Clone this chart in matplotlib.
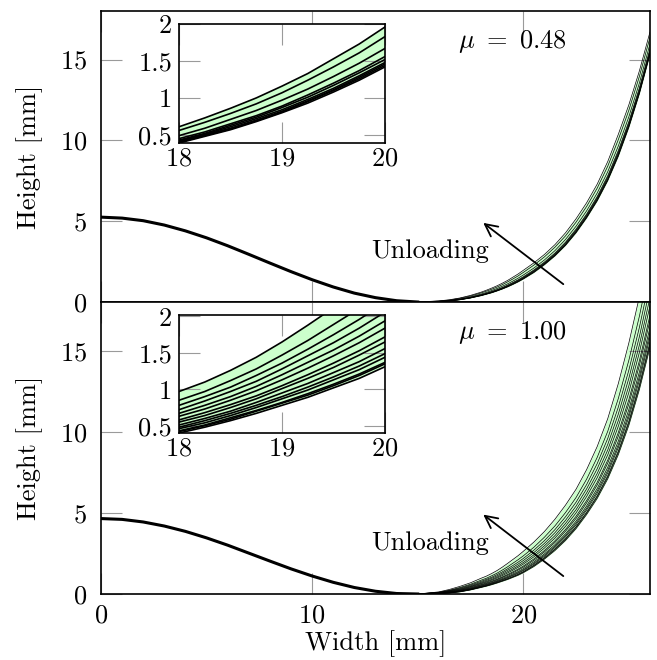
import matplotlib
matplotlib.use("Agg")
import matplotlib.pyplot as plt

# Computer Modern look
plt.rcParams["font.family"] = "cmr10"
plt.rcParams["mathtext.fontset"] = "cm"
plt.rcParams["axes.formatter.use_mathtext"] = True
plt.rcParams["font.size"] = 19

# shared part of every profile (0..15 mm)
x_left = [0, 1, 2, 3, 4, 5, 6, 7, 8, 9, 10, 11, 12, 13, 14, 15]
top_left = [5.25, 5.19, 5.03, 4.76, 4.40, 3.97, 3.48, 2.95, 2.41, 1.88, 1.38, 0.93, 0.55, 0.27, 0.08, 0.00]
bot_left = [4.65, 4.60, 4.44, 4.19, 3.86, 3.46, 3.01, 2.52, 2.03, 1.55, 1.11, 0.72, 0.40, 0.17, 0.03, 0.00]

# right part of the profiles, one list per unloading step
x_right = [16, 16.5, 17, 17.5, 18, 18.25, 18.5, 18.75, 19, 19.25, 19.5, 19.75, 20,
           20.5, 21, 21.5, 22, 22.5, 23, 23.5, 24, 24.5, 25, 25.5, 26]

# mu = 0.48
top_right = [
    [0.03, 0.07, 0.14, 0.25, 0.39, 0.48, 0.57, 0.68, 0.80, 0.93, 1.08, 1.24, 1.42,
     1.82, 2.30, 2.85, 3.50, 4.28, 5.20, 6.25, 7.50, 9.01, 10.80, 12.88, 15.30],
    [0.03, 0.07, 0.14, 0.25, 0.40, 0.49, 0.58, 0.69, 0.81, 0.95, 1.10, 1.26, 1.44,
     1.85, 2.33, 2.88, 3.53, 4.32, 5.24, 6.29, 7.55, 9.07, 10.86, 12.94, 15.36],
    [0.03, 0.08, 0.15, 0.26, 0.41, 0.50, 0.59, 0.70, 0.82, 0.96, 1.11, 1.28, 1.46,
     1.87, 2.35, 2.90, 3.55, 4.34, 5.26, 6.33, 7.58, 9.11, 10.90, 12.98, 15.40],
    [0.03, 0.08, 0.15, 0.27, 0.42, 0.51, 0.61, 0.72, 0.84, 0.98, 1.13, 1.30, 1.48,
     1.90, 2.38, 2.93, 3.59, 4.39, 5.31, 6.38, 7.64, 9.18, 10.97, 13.05, 15.47],
    [0.04, 0.08, 0.16, 0.28, 0.43, 0.52, 0.63, 0.74, 0.87, 1.01, 1.17, 1.34, 1.52,
     1.94, 2.42, 2.98, 3.65, 4.45, 5.38, 6.45, 7.73, 9.27, 11.07, 13.15, 15.57],
    [0.04, 0.09, 0.17, 0.29, 0.45, 0.54, 0.65, 0.76, 0.89, 1.04, 1.20, 1.37, 1.56,
     1.98, 2.47, 3.03, 3.70, 4.51, 5.44, 6.52, 7.81, 9.37, 11.16, 13.25, 15.66],
    [0.05, 0.10, 0.19, 0.32, 0.49, 0.59, 0.71, 0.83, 0.97, 1.12, 1.29, 1.47, 1.67,
     2.10, 2.60, 3.18, 3.87, 4.69, 5.64, 6.74, 8.06, 9.65, 11.46, 13.55, 15.96],
    [0.06, 0.12, 0.23, 0.37, 0.56, 0.67, 0.79, 0.92, 1.07, 1.24, 1.42, 1.61, 1.83,
     2.28, 2.79, 3.39, 4.09, 4.94, 5.91, 7.04, 8.40, 10.04, 11.86, 13.96, 16.36],
    [0.07, 0.14, 0.25, 0.41, 0.61, 0.73, 0.86, 1.00, 1.16, 1.33, 1.53, 1.73, 1.96,
     2.42, 2.94, 3.55, 4.28, 5.15, 6.14, 7.29, 8.69, 10.37, 12.20, 14.30, 16.70],
]

# mu = 1.00
bot_right = [
    [0.03, 0.06, 0.13, 0.25, 0.40, 0.48, 0.57, 0.67, 0.78, 0.89, 1.02, 1.15, 1.31,
     1.69, 2.15, 2.68, 3.30, 4.03, 4.90, 5.89, 7.10, 8.59, 10.40, 12.61, 15.20],
    [0.03, 0.07, 0.14, 0.26, 0.42, 0.50, 0.59, 0.70, 0.81, 0.92, 1.05, 1.19, 1.35,
     1.74, 2.20, 2.74, 3.37, 4.11, 4.98, 5.99, 7.21, 8.72, 10.55, 12.78, 15.39],
    [0.03, 0.07, 0.15, 0.27, 0.43, 0.51, 0.61, 0.71, 0.82, 0.94, 1.07, 1.21, 1.37,
     1.77, 2.24, 2.78, 3.41, 4.15, 5.04, 6.05, 7.29, 8.81, 10.65, 12.90, 15.52],
    [0.04, 0.08, 0.17, 0.29, 0.46, 0.54, 0.64, 0.75, 0.87, 0.99, 1.13, 1.27, 1.44,
     1.84, 2.32, 2.87, 3.52, 4.27, 5.18, 6.21, 7.47, 9.03, 10.91, 13.18, 15.84],
    [0.04, 0.09, 0.18, 0.31, 0.48, 0.57, 0.67, 0.78, 0.90, 1.03, 1.17, 1.32, 1.49,
     1.90, 2.39, 2.95, 3.61, 4.37, 5.29, 6.34, 7.62, 9.20, 11.11, 13.41, 16.10],
    [0.05, 0.11, 0.19, 0.33, 0.51, 0.60, 0.70, 0.82, 0.95, 1.08, 1.23, 1.38, 1.56,
     1.98, 2.47, 3.04, 3.71, 4.49, 5.43, 6.50, 7.81, 9.42, 11.37, 13.69, 16.42],
    [0.06, 0.12, 0.22, 0.36, 0.55, 0.64, 0.75, 0.87, 1.01, 1.15, 1.30, 1.47, 1.65,
     2.08, 2.59, 3.18, 3.87, 4.66, 5.62, 6.72, 8.07, 9.73, 11.72, 14.10, 16.86],
    [0.06, 0.13, 0.23, 0.39, 0.58, 0.68, 0.79, 0.91, 1.05, 1.20, 1.36, 1.53, 1.72,
     2.16, 2.68, 3.28, 3.98, 4.79, 5.76, 6.88, 8.25, 9.95, 11.98, 14.38, 17.18],
    [0.07, 0.15, 0.26, 0.43, 0.63, 0.73, 0.85, 0.98, 1.13, 1.29, 1.46, 1.64, 1.84,
     2.29, 2.83, 3.45, 4.17, 5.00, 6.01, 7.17, 8.58, 10.34, 12.43, 14.90, 17.76],
    [0.08, 0.17, 0.29, 0.46, 0.67, 0.78, 0.90, 1.04, 1.20, 1.37, 1.54, 1.73, 1.94,
     2.41, 2.97, 3.60, 4.35, 5.20, 6.23, 7.43, 8.88, 10.69, 12.84, 15.36, 18.27],
    [0.09, 0.19, 0.32, 0.50, 0.72, 0.84, 0.97, 1.11, 1.28, 1.46, 1.64, 1.84, 2.06,
     2.55, 3.12, 3.78, 4.54, 5.42, 6.48, 7.72, 9.22, 11.09, 13.30, 15.87, 18.85],
    [0.10, 0.21, 0.36, 0.55, 0.78, 0.90, 1.03, 1.19, 1.36, 1.55, 1.75, 1.96, 2.19,
     2.70, 3.29, 3.97, 4.76, 5.66, 6.75, 8.04, 9.59, 11.52, 13.80, 16.44, 19.49],
    [0.11, 0.23, 0.40, 0.60, 0.85, 0.97, 1.12, 1.28, 1.47, 1.67, 1.89, 2.11, 2.35,
     2.88, 3.50, 4.20, 5.02, 5.95, 7.08, 8.42, 10.03, 12.05, 14.41, 17.13, 20.26],
    [0.13, 0.28, 0.47, 0.69, 0.97, 1.10, 1.26, 1.44, 1.65, 1.88, 2.12, 2.36, 2.63,
     3.20, 3.85, 4.61, 5.48, 6.46, 7.67, 9.09, 10.81, 12.97, 15.48, 18.33, 21.60],
]

mu_labels = [r"$\mu\ =\ 0.48$", r"$\mu\ =\ 1.00$"]

x_ticks = [0, 10, 20]
y_ticks = [0, 5, 10, 15]
inset_xticks = [18, 19, 20]
inset_yticks = [0.5, 1, 1.5, 2]
inset_ylabels = ["0.5", "1", "1.5", "2"]

fill_color = "#ccffcc"
tick_color = "#9a9a9a"


def style(ax):
    ax.tick_params(direction="in", length=15, width=0.8, color=tick_color,
                   top=True, right=True)
    for s in ax.spines.values():
        s.set_linewidth(1.2)


def draw_profiles(ax, left, curves, lw):
    x = x_left + x_right
    ax.fill_between(x, left + curves[0], left + curves[-1], color=fill_color, lw=0)
    for c in curves:
        ax.plot(x, left + c, color="black", lw=lw)


fig = plt.figure(figsize=(6.57, 6.60), dpi=100)
ax_top = fig.add_axes([0.1537, 0.5424, 0.8356, 0.4409])
ax_bot = fig.add_axes([0.1537, 0.1000, 0.8356, 0.4424])
in_top = fig.add_axes([0.2725, 0.7833, 0.3135, 0.1803])
in_bot = fig.add_axes([0.2725, 0.3439, 0.3135, 0.1788])

panels = [(ax_top, in_top, top_left, top_right, (0.39, 2.0)),
          (ax_bot, in_bot, bot_left, bot_right, (0.40, 2.02))]

for i, (ax, ins, left, curves, ylim) in enumerate(panels):
    draw_profiles(ax, left, curves, 0.5)
    ax.plot(x_left, left, color="black", lw=2.2)
    ax.set_xlim(0, 26)
    ax.set_ylim(0, 18)
    ax.set_xticks(x_ticks)
    ax.set_yticks(y_ticks)
    style(ax)
    ax.tick_params(axis="y", pad=10)
    ax.tick_params(axis="x", pad=7)
    ax.set_ylabel("Height [mm]")
    ax.yaxis.set_label_coords(-0.105, 0.5)

    ax.annotate("", xy=(18, 5), xytext=(22, 1),
                arrowprops=dict(arrowstyle="->", lw=1.3, color="black",
                                mutation_scale=22))
    ax.text(15.6, 3.15, "Unloading", ha="center", va="center")
    ax.text(16.9, 16.1, mu_labels[i], ha="left", va="center")

    # zoomed view
    ins.set_zorder(5)
    ins.set_facecolor("white")
    draw_profiles(ins, left, curves, 1.2)
    ins.set_xlim(18, 20)
    ins.set_ylim(*ylim)
    ins.set_xticks(inset_xticks)
    ins.set_yticks(inset_yticks)
    ins.set_yticklabels(inset_ylabels)
    style(ins)
    ins.tick_params(axis="y", pad=5)
    ins.tick_params(axis="x", pad=3)

ax_top.tick_params(axis="x", labelbottom=False)
ax_bot.set_xlabel("Width [mm]", labelpad=2)

fig.savefig("out.png", dpi=100)
